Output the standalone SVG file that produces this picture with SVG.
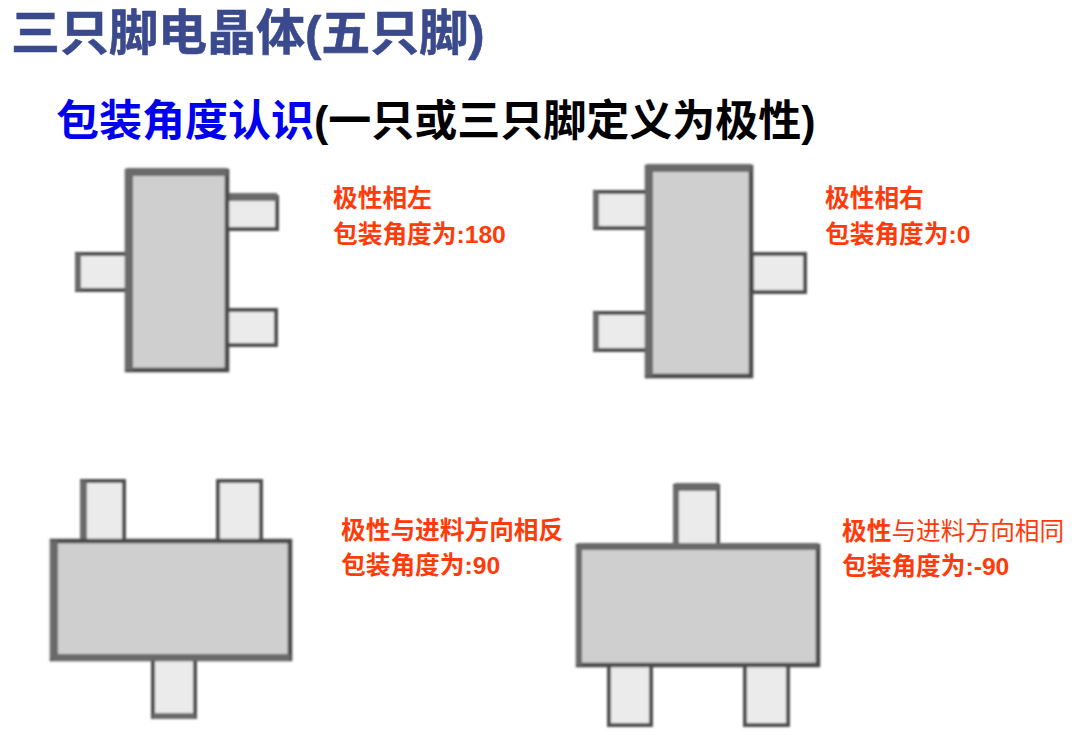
<svg xmlns="http://www.w3.org/2000/svg" width="1080" height="735" viewBox="0 0 1080 735">
<defs><filter id="b" x="-5%" y="-5%" width="110%" height="110%"><feGaussianBlur stdDeviation="0.9"/></filter></defs>
<style>
text{font-family:"Liberation Sans","Noto Sans CJK SC",sans-serif;font-weight:700}
.t{font-size:49px;fill:#3b4a8c;stroke:#3b4a8c;stroke-width:.6}
.s{font-size:43px;fill:#000}
.r{font-size:24.7px;fill:#ff3b0a}
.body{fill:#cfcfcf;stroke:#4a4a4a;stroke-width:4.5}
.pin{fill:#ebebeb;stroke:#505050;stroke-width:4}
.hv{fill:#6a6a6a}
</style>
<rect width="1080" height="735" fill="#fff"/>
<g id="title"><text class="t" x="11" y="50">三只脚电晶体(五只脚)</text></g>
<g id="subtitle"><text class="s" x="56" y="136"><tspan fill="#0000ee">包装角度认识</tspan>(一只或三只脚定义为极性)</text></g>
<g id="pkg180" filter="url(#b)">
<rect class="pin" x="227" y="197" width="50" height="32"/><rect class="hv" x="227" y="193" width="50" height="8"/>
<rect class="pin" x="227" y="310" width="49" height="35"/>
<rect class="pin" x="77" y="254" width="50" height="36"/><rect class="hv" x="75" y="254" width="6" height="36"/>
<rect class="body" x="127" y="171" width="100" height="199"/><rect class="hv" x="127" y="168" width="100" height="8"/><rect class="hv" x="125" y="170" width="8" height="200"/></g>
<g id="pkg0" filter="url(#b)">
<rect class="pin" x="595" y="192" width="52" height="36"/><rect class="hv" x="593" y="192" width="6" height="36"/>
<rect class="pin" x="595" y="313" width="52" height="37"/><rect class="hv" x="593" y="313" width="6" height="37"/>
<rect class="pin" x="752" y="254" width="53" height="38"/>
<rect class="body" x="647" y="167" width="104" height="209"/><rect class="hv" x="647" y="164" width="104" height="8"/><rect class="hv" x="645" y="166" width="8" height="210"/></g>
<g id="pkg90" filter="url(#b)">
<rect class="pin" x="82" y="481" width="42" height="60"/><rect class="hv" x="80" y="481" width="7" height="60"/>
<rect class="pin" x="218" y="481" width="43" height="60"/>
<rect class="pin" x="153" y="659" width="42" height="58"/><rect class="hv" x="153" y="713" width="42" height="6"/>
<rect class="body" x="52" y="541" width="238" height="118"/><rect class="hv" x="50" y="541" width="8" height="118"/><rect class="hv" x="52" y="654" width="238" height="7"/></g>
<g id="pkg-90" filter="url(#b)">
<rect class="pin" x="675" y="486" width="43" height="60"/><rect class="hv" x="675" y="483" width="43" height="8"/><rect class="hv" x="673" y="486" width="6" height="60"/>
<rect class="pin" x="609" y="665" width="42" height="60"/><rect class="pin" x="745" y="665" width="43" height="60"/>
<rect class="body" x="578" y="546" width="240" height="119"/><rect class="hv" x="578" y="543" width="240" height="7"/><rect class="hv" x="576" y="546" width="6" height="119"/></g>
<g id="label180"><text class="r" x="333" y="207">极性相左</text><text class="r" x="333" y="243">包装角度为:180</text></g>
<g id="label0"><text class="r" x="825" y="207">极性相右</text><text class="r" x="825" y="243">包装角度为:0</text></g>
<g id="label90"><text class="r" x="341" y="539">极性与进料方向相反</text><text class="r" x="341" y="574">包装角度为:90</text></g>
<g id="label-90"><text class="r" x="842" y="540">极性<tspan font-weight="400" style="font-family:'Noto Sans CJK SC',serif">与进料方向相同</tspan></text><text class="r" x="842" y="575">包装角度为:-90</text></g>
</svg>
